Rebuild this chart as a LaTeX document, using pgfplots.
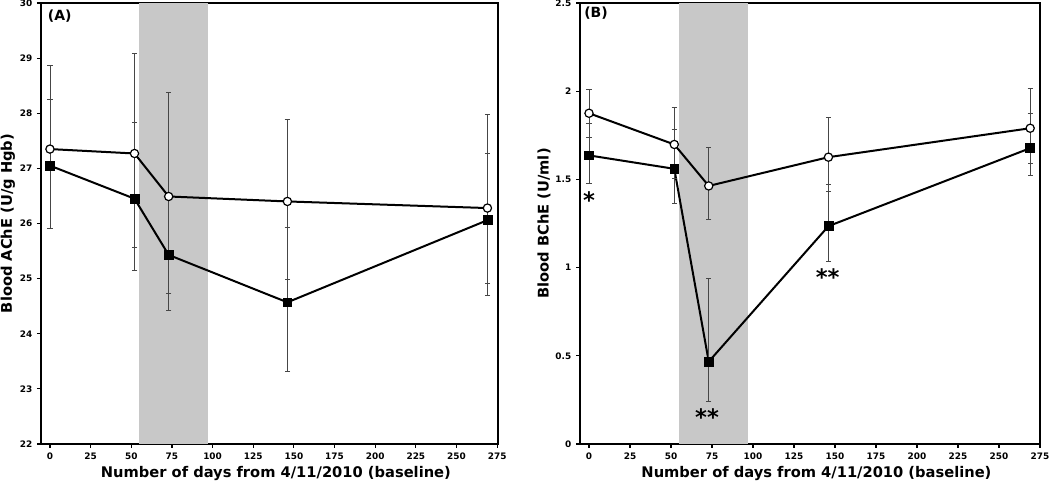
\documentclass[border=0pt]{standalone}
\usepackage{fontspec}
\setmainfont{DejaVu Sans}
\usepackage{pgfplots}
\pgfplotsset{compat=1.18}
\definecolor{shade}{RGB}{200,200,200}
\definecolor{ebar}{RGB}{70,70,70}
\pgfplotsset{
 panel/.style={
  scale only axis, height=330.75pt,
  axis line style={line width=2.2pt},
  tick align=outside, xtick pos=bottom, ytick pos=left,
  major tick length=3pt,
  every tick/.style={black, line width=0.9pt},
  tick label style={font=\bfseries\fontsize{6.7}{7}\selectfont},
  /pgf/number format/assume math mode=true,
  label style={font=\bfseries\fontsize{11}{13}\selectfont},
  xtick={0,25,...,275},
  xlabel={Number of days from 4/11/2010 (baseline)},
  x label style={at={(axis description cs:0.514,-0.0658)}, anchor=center},
 },
 ebars/.style={error bars/.cd, y dir=both, y explicit,
   error bar style={ebar, line width=0.6pt},
   error mark options={rotate=90, ebar, line width=0.6pt, mark size=2pt}},
 opn/.style={black, line width=1.5pt, mark=*, mark size=3.1pt,
   mark options={fill=white, draw=black, line width=0.9pt}, ebars},
 fld/.style={black, line width=1.5pt, mark=square*, mark size=3.3pt,
   mark options={fill=black, draw=black, line width=0.5pt}, ebars},
}
\begin{document}
\begin{tikzpicture}
\begin{axis}[panel, width=342.75pt, xmin=-5.5, xmax=275.5, ymin=22, ymax=30,
  ytick={22,23,...,30},
  ylabel={Blood AChE (U/g Hgb)},
  y label style={at={(axis description cs:-0.0722,0.5)}, anchor=center}]
\addplot[fill=shade, draw=none, forget plot] coordinates {(55,30) (97,30)} \closedcycle;
\addplot[fld] coordinates {
 (0,27.05) += (0,1.21) -= (0,1.14)
 (52,26.45) += (0,1.39) -= (0,1.30)
 (73,25.43) += (0,1.01) -= (0,1.01)
 (146,24.57) += (0,1.36) -= (0,1.26)
 (269,26.06) += (0,1.21) -= (0,1.15)
};
\addplot[opn] coordinates {
 (0,27.35) += (0,1.52) -= (0,1.44)
 (52,27.27) += (0,1.82) -= (0,1.71)
 (73,26.49) += (0,1.89) -= (0,1.76)
 (146,26.40) += (0,1.49) -= (0,1.41)
 (269,26.28) += (0,1.69) -= (0,1.59)
};
\node[anchor=north west, font=\bfseries\fontsize{10.5}{12}\selectfont, inner sep=0pt]
  at ([xshift=5pt,yshift=-5pt]rel axis cs:0,1) {(A)};
\end{axis}
\begin{axis}[panel, at={(404.25pt,0pt)}, width=345pt, xmin=-5.5, xmax=275, ymin=0, ymax=2.5,
  ytick={0,0.5,...,2.5},
  ylabel={Blood BChE (U/ml)},
  y label style={at={(axis description cs:-0.078,0.5)}, anchor=center}]
\addplot[fill=shade, draw=none, forget plot] coordinates {(55,2.5) (97,2.5)} \closedcycle;
\addplot[fld] coordinates {
 (0,1.636) += (0,0.182) -= (0,0.158)
 (52,1.560) += (0,0.224) -= (0,0.194)
 (73,0.467) += (0,0.473) -= (0,0.228)
 (146,1.235) += (0,0.237) -= (0,0.198)
 (269,1.677) += (0,0.196) -= (0,0.157)
};
\addplot[opn] coordinates {
 (0,1.875) += (0,0.137) -= (0,0.135)
 (52,1.698) += (0,0.209) -= (0,0.192)
 (73,1.463) += (0,0.218) -= (0,0.188)
 (146,1.626) += (0,0.228) -= (0,0.196)
 (269,1.790) += (0,0.227) -= (0,0.202)
};
\node[anchor=north west, font=\bfseries\fontsize{10.5}{12}\selectfont, inner sep=0pt]
  at ([xshift=3pt,yshift=-3pt]rel axis cs:0,1) {(B)};
\node[anchor=base, font=\bfseries\fontsize{17}{17}\selectfont, inner sep=0pt] at (axis cs:0,1.333) {*};
\node[anchor=base, font=\bfseries\fontsize{17}{17}\selectfont, inner sep=0pt] at (axis cs:72,0.104) {**};
\node[anchor=base, font=\bfseries\fontsize{17}{17}\selectfont, inner sep=0pt] at (axis cs:145.5,0.900) {**};
\end{axis}
\pgfresetboundingbox
\path[use as bounding box] (-30.75pt,-27.75pt) rectangle (756.75pt,333pt);
\end{tikzpicture}
\end{document}
